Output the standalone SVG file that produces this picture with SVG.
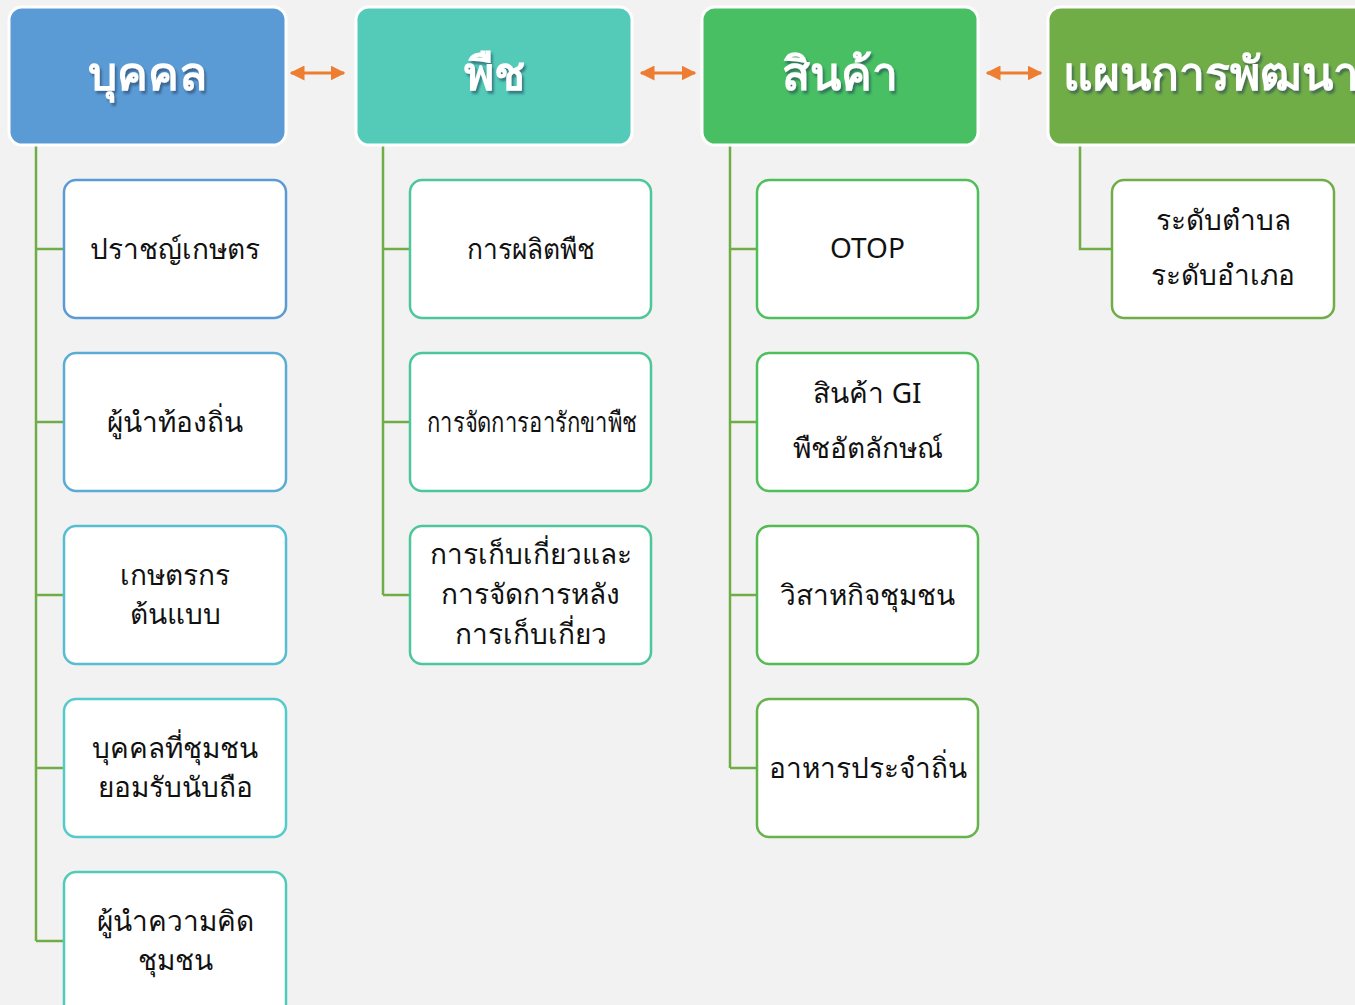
<svg xmlns="http://www.w3.org/2000/svg" width="1355" height="1005" viewBox="0 0 1355 1005">
<defs>
<filter id="sh" x="-10%" y="-20%" width="130%" height="150%">
<feDropShadow dx="2" dy="3" stdDeviation="1.2" flood-color="#1f3b5a" flood-opacity="0.55"/>
</filter>
<marker id="ah" viewBox="0 0 10 10" refX="9" refY="5" markerWidth="5" markerHeight="5" orient="auto-start-reverse" markerUnits="strokeWidth">
<path d="M0,0 L10,5 L0,10 z" fill="#ED7D31"/>
</marker>
</defs>
<style>
.hdr{stroke:#fff;stroke-width:3}
.htxt{font-family:"Noto Sans","DejaVu Sans",sans-serif;font-weight:bold;font-size:46px;fill:#fff;text-anchor:middle}
.box{fill:#fff;stroke-width:2.5}
.t{font-family:"Noto Sans","DejaVu Sans",sans-serif;font-size:28px;fill:#111;text-anchor:middle}
.ln{fill:none;stroke:#70AD47;stroke-width:2.5}
.ar{stroke:#ED7D31;stroke-width:3;fill:none}
</style>
<rect width="1355" height="1005" fill="#F2F2F2"/>

<g id="connectors">
<path class="ln" d="M36,145 V941 M36,249 H64 M36,422 H64 M36,595 H64 M36,768 H64 M36,941 H64"/>
<path class="ln" d="M383,145 V595 M383,249 H410 M383,422 H410 M383,595 H410"/>
<path class="ln" d="M730,145 V768 M730,249 H757 M730,422 H757 M730,595 H757 M730,768 H757"/>
<path class="ln" d="M1080,145 V249 H1112"/>
<line class="ar" x1="291" y1="73" x2="344" y2="73" marker-start="url(#ah)" marker-end="url(#ah)"/>
<line class="ar" x1="641" y1="73" x2="695" y2="73" marker-start="url(#ah)" marker-end="url(#ah)"/>
<line class="ar" x1="987" y1="73" x2="1041" y2="73" marker-start="url(#ah)" marker-end="url(#ah)"/>
</g>

<g id="h1"><rect class="hdr" x="9" y="7" width="277" height="138" rx="13" fill="#5B9BD5"/><text class="htxt" x="147" y="90" filter="url(#sh)">บุคคล</text></g>
<g id="h2"><rect class="hdr" x="356" y="7" width="276" height="138" rx="13" fill="#53CBB8"/><text class="htxt" x="494" y="90" filter="url(#sh)">พืช</text></g>
<g id="h3"><rect class="hdr" x="702" y="7" width="276" height="138" rx="13" fill="#47BF62"/><text class="htxt" x="840" y="90" filter="url(#sh)">สินค้า</text></g>
<g id="h4"><rect class="hdr" x="1048" y="7" width="330" height="138" rx="13" fill="#70AD47"/><text class="htxt" x="1063" y="90" style="text-anchor:start" filter="url(#sh)">แผนการพัฒนา</text></g>

<g id="c1a"><rect class="box" x="64" y="180" width="222" height="138" rx="12" stroke="#5B9BD5"/><text class="t" x="175" y="259">ปราชญ์เกษตร</text></g>
<g id="c1b"><rect class="box" x="64" y="353" width="222" height="138" rx="12" stroke="#59ADD5"/><text class="t" x="175" y="432">ผู้นำท้องถิ่น</text></g>
<g id="c1c"><rect class="box" x="64" y="526" width="222" height="138" rx="12" stroke="#56BDD3"/><text class="t" x="175" y="585">เกษตรกร</text><text class="t" x="175" y="624">ต้นแบบ</text></g>
<g id="c1d"><rect class="box" x="64" y="699" width="222" height="138" rx="12" stroke="#53CACB"/><text class="t" x="175" y="758">บุคคลที่ชุมชน</text><text class="t" x="175" y="797">ยอมรับนับถือ</text></g>
<g id="c1e"><rect class="box" x="64" y="872" width="222" height="150" rx="12" stroke="#51CBB9"/><text class="t" x="175" y="931">ผู้นำความคิด</text><text class="t" x="175" y="970">ชุมชน</text></g>

<g id="c2a"><rect class="box" x="410" y="180" width="241" height="138" rx="12" stroke="#4DC79A"/><text class="t" x="530.5" y="259" textLength="128" lengthAdjust="spacingAndGlyphs">การผลิตพืช</text></g>
<g id="c2b"><rect class="box" x="410" y="353" width="241" height="138" rx="12" stroke="#4DC79A"/><text class="t" x="532" y="432" textLength="210" lengthAdjust="spacingAndGlyphs">การจัดการอารักขาพืช</text></g>
<g id="c2c"><rect class="box" x="410" y="526" width="241" height="138" rx="12" stroke="#4DC79A"/><text class="t" x="530.5" y="564">การเก็บเกี่ยวและ</text><text class="t" x="530.5" y="604">การจัดการหลัง</text><text class="t" x="530.5" y="644">การเก็บเกี่ยว</text></g>

<g id="c3a"><rect class="box" x="757" y="180" width="221" height="138" rx="12" stroke="#4FBF5B"/><text class="t" x="867.5" y="258">OTOP</text></g>
<g id="c3b"><rect class="box" x="757" y="353" width="221" height="138" rx="12" stroke="#4FBF5B"/><text class="t" x="867.5" y="403">สินค้า GI</text><text class="t" x="867.5" y="458">พืชอัตลักษณ์</text></g>
<g id="c3c"><rect class="box" x="757" y="526" width="221" height="138" rx="12" stroke="#56BA52"/><text class="t" x="867.5" y="605">วิสาหกิจชุมชน</text></g>
<g id="c3d"><rect class="box" x="757" y="699" width="221" height="138" rx="12" stroke="#66B24B"/><text class="t" x="867.5" y="778">อาหารประจำถิ่น</text></g>

<g id="c4a"><rect class="box" x="1112" y="180" width="222" height="138" rx="12" stroke="#70AD47"/><text class="t" x="1223" y="230">ระดับตำบล</text><text class="t" x="1223" y="285">ระดับอำเภอ</text></g>
</svg>
